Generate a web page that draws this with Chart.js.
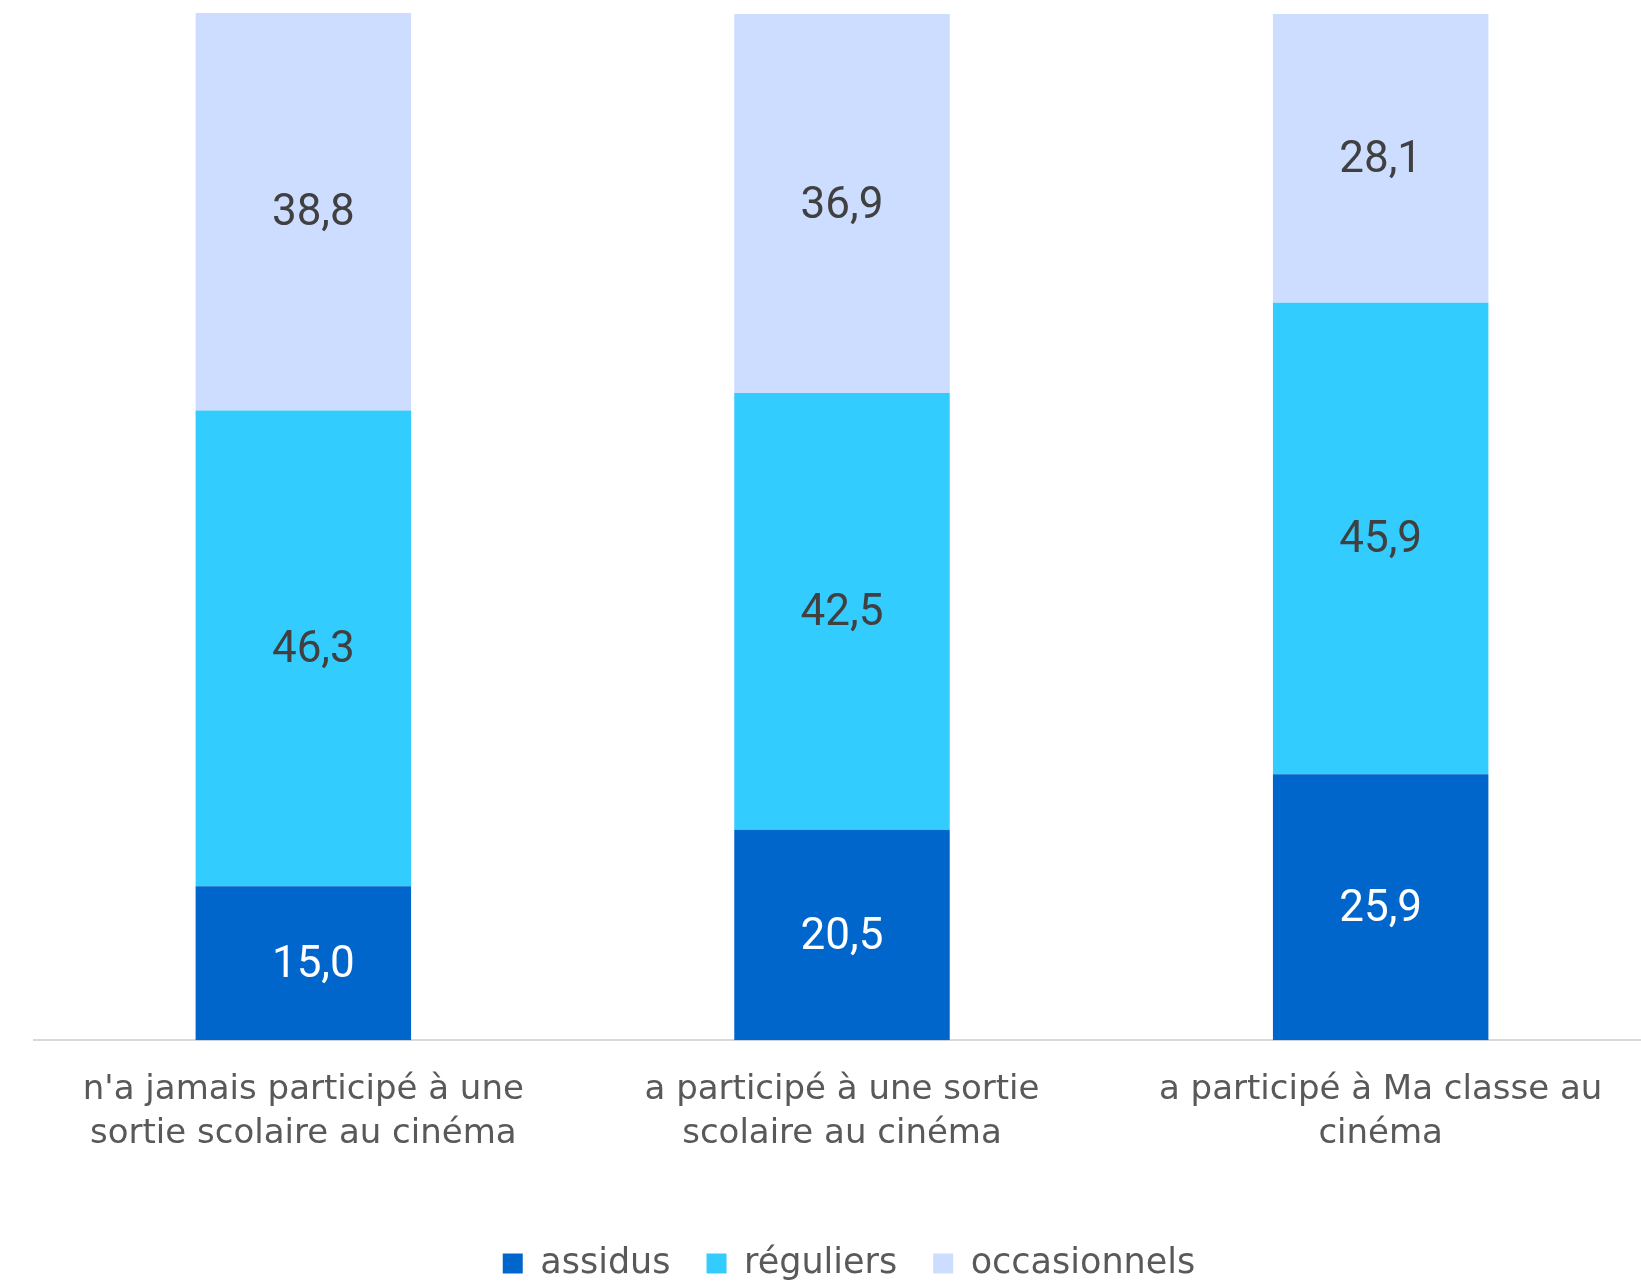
<!DOCTYPE html>
<html>
<head>
<meta charset="utf-8">
<script src="https://cdn.jsdelivr.net/npm/chart.js@4.4.1/dist/chart.umd.min.js"></script>
<style>
  html, body { margin: 0; padding: 0; background: #fff; overflow: hidden; }
  #wrap { width: 1641px; height: 1281px; overflow: hidden; position: relative; }
  #box { width: 1698px; height: 1291px; position: absolute; left: 0; top: 0; }
</style>
</head>
<body>
<div id="wrap"><div id="box"><canvas id="chart"></canvas></div></div>
<script>
var categories = [
    ["n'a jamais participé à une", "sortie scolaire au cinéma"],
    ["a participé à une sortie", "scolaire au cinéma"],
    ["a participé à Ma classe au", "cinéma"]
];
var assidus = [15.0, 20.5, 25.9];
var reguliers = [46.3, 42.5, 45.9];
var occasionnels = [38.8, 36.9, 28.1];

var seriesNames = ['assidus', 'réguliers', 'occasionnels'];
var seriesColors = ['#0066CC', '#33CCFF', '#CCDDFF'];
var labelColors = ['#FFFFFF', '#404040', '#404040'];
// the first column's labels sit a bit to the right in the original
var labelShift = [10, 0, 0];

// write the value in the middle of each segment
var segmentLabels = {
    id: 'segmentLabels',
    afterLayout: function(chart) {
        // legend is centred a little right of the plot in the original
        chart.legend.left += 7;
        chart.legend.right += 7;
    },
    afterDatasetsDraw: function(chart) {
        var ctx = chart.ctx;
        ctx.save();
        ctx.font = '44px Roboto';
        ctx.textAlign = 'center';
        ctx.textBaseline = 'middle';
        chart.data.datasets.forEach(function(ds, i) {
            var meta = chart.getDatasetMeta(i);
            ctx.fillStyle = labelColors[i];
            meta.data.forEach(function(bar, j) {
                var c = bar.getCenterPoint();
                ctx.fillText(ds.data[j].toFixed(1).replace('.', ','), c.x + labelShift[j], c.y + 3);
            });
        });
        ctx.restore();
    }
};

var config = {
    type: 'bar',
    data: {
        labels: categories,
        datasets: [
            {label: seriesNames[0], data: assidus, backgroundColor: seriesColors[0]},
            {label: seriesNames[1], data: reguliers, backgroundColor: seriesColors[1]},
            {label: seriesNames[2], data: occasionnels, backgroundColor: seriesColors[2]}
        ]
    },
    options: {
        responsive: true,
        maintainAspectRatio: false,
        animation: false,
        layout: {padding: {left: 34, right: 48, top: 13, bottom: 0}},
        datasets: {bar: {categoryPercentage: 0.8, barPercentage: 0.5}},
        scales: {
            x: {
                stacked: true,
                grid: {display: false, drawTicks: false},
                border: {display: true, color: '#D9D9D9', width: 2},
                ticks: {
                    color: '#595959',
                    padding: 27,
                    maxRotation: 0,
                    autoSkip: false,
                    font: {family: 'DejaVu Sans', size: 34, lineHeight: 1.32}
                },
                afterFit: function(scale) {
                    scale.height += 26;
                }
            },
            y: {
                stacked: true,
                display: false,
                min: 0,
                max: 100
            }
        },
        plugins: {
            legend: {
                position: 'bottom',
                labels: {
                    color: '#595959',
                    boxWidth: 20,
                    boxHeight: 20,
                    padding: 36,
                    font: {family: 'DejaVu Sans', size: 35}
                }
            },
            tooltip: {enabled: false}
        }
    },
    plugins: [segmentLabels]
};

var chart = new Chart(document.getElementById('chart').getContext('2d'), config);
</script>
</body>
</html>
